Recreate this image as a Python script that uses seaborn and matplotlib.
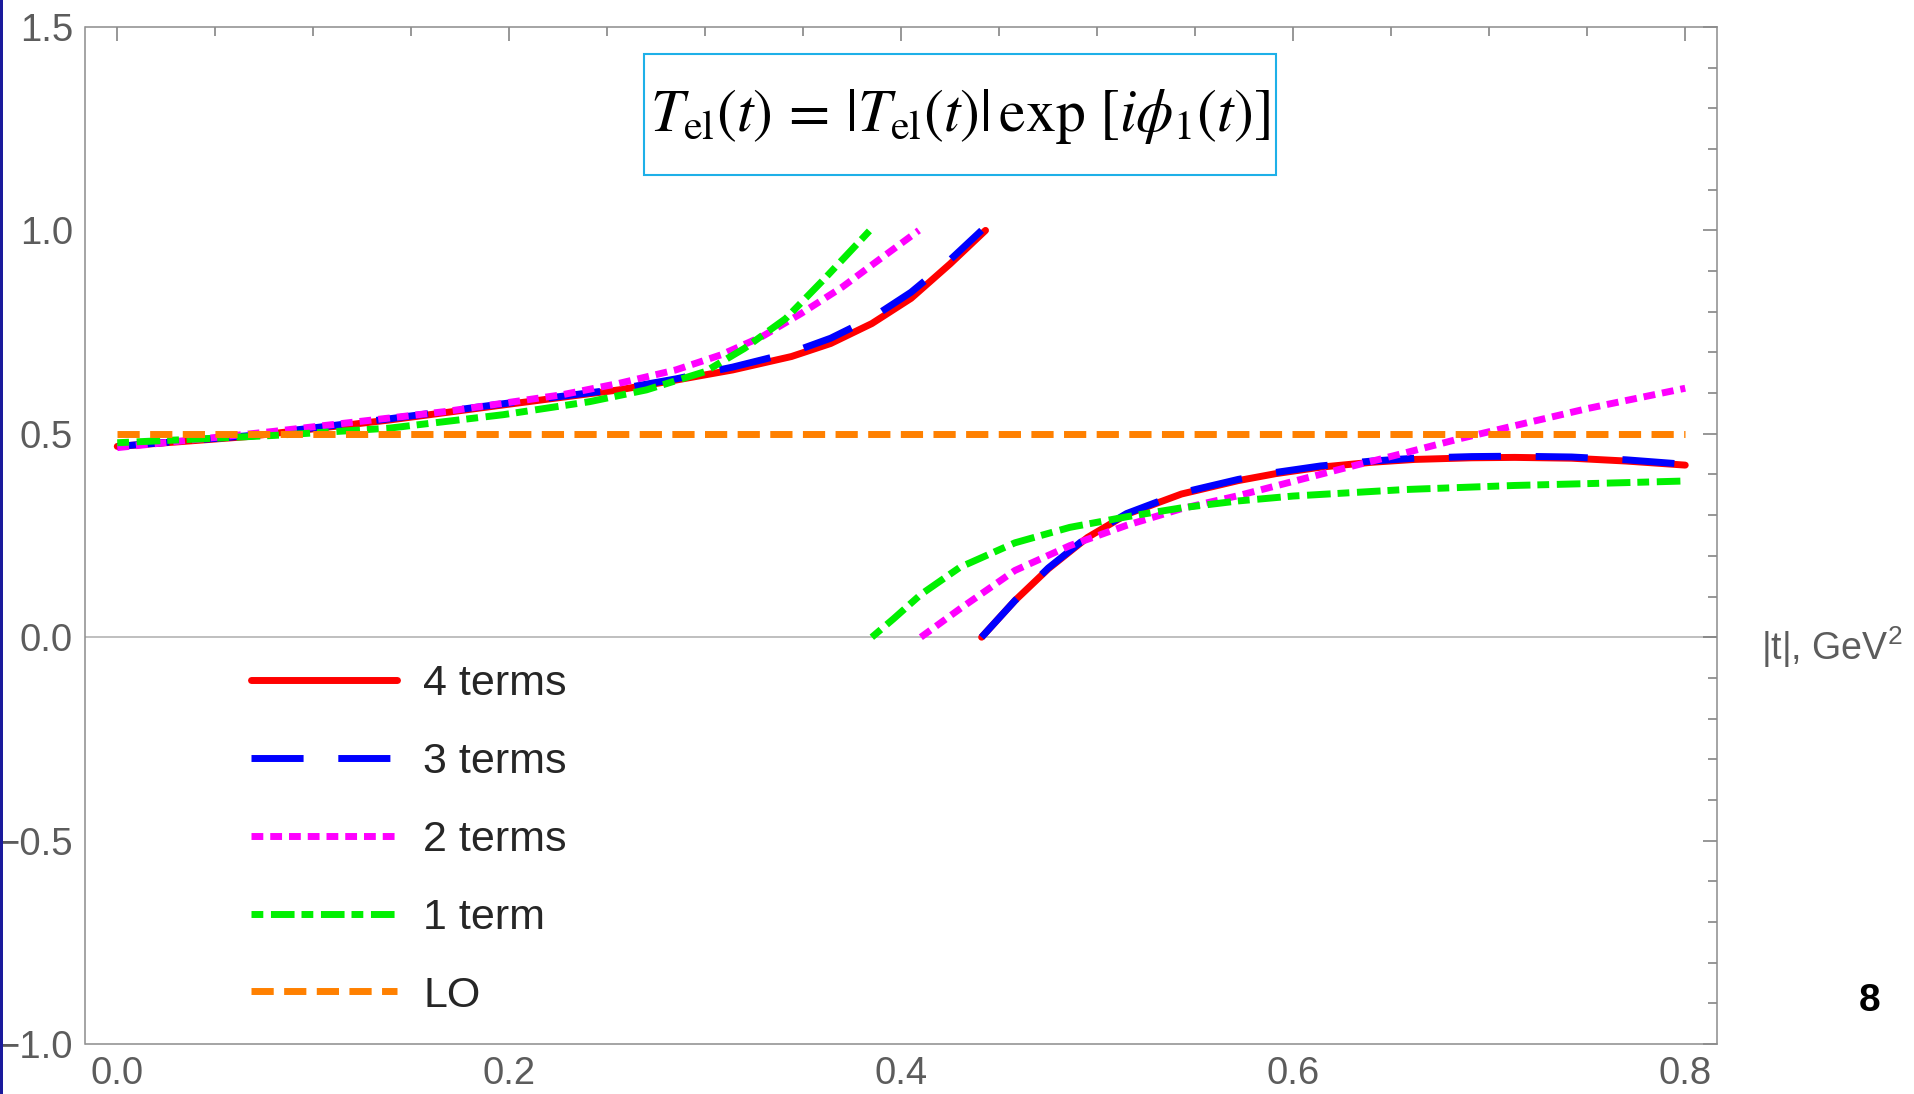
import numpy as np
import pandas as pd
import matplotlib
matplotlib.use("Agg")
import matplotlib.pyplot as plt
from matplotlib.patches import Rectangle
from matplotlib.ticker import MultipleLocator
import seaborn as sns

# ---------------- data ----------------
series_names = ["4 terms", "3 terms", "2 terms", "1 term", "LO"]

# 4 terms
t4_a   = [0.0, 0.066, 0.139, 0.197, 0.256, 0.285, 0.314, 0.344, 0.364, 0.385, 0.405, 0.425, 0.443]
phi4_a = [0.469, 0.493, 0.534, 0.571, 0.608, 0.632, 0.657, 0.690, 0.722, 0.771, 0.833, 0.918, 1.0]
t4_b   = [0.441, 0.458, 0.475, 0.495, 0.515, 0.543, 0.572, 0.591, 0.614, 0.640, 0.662, 0.691, 0.713, 0.742, 0.770, 0.800]
phi4_b = [0.0, 0.090, 0.168, 0.245, 0.302, 0.352, 0.385, 0.402, 0.418, 0.430, 0.437, 0.441, 0.442, 0.440, 0.433, 0.423]

# 3 terms
t3_a   = [0.0, 0.066, 0.139, 0.197, 0.256, 0.285, 0.314, 0.344, 0.364, 0.385, 0.405, 0.425, 0.441]
phi3_a = [0.469, 0.495, 0.537, 0.574, 0.610, 0.635, 0.664, 0.700, 0.735, 0.785, 0.848, 0.928, 1.0]
t3_b   = [0.441, 0.458, 0.475, 0.495, 0.515, 0.543, 0.572, 0.591, 0.614, 0.640, 0.662, 0.691, 0.713, 0.742, 0.770, 0.800]
phi3_b = [0.0, 0.090, 0.170, 0.247, 0.304, 0.355, 0.388, 0.405, 0.421, 0.433, 0.440, 0.444, 0.445, 0.443, 0.436, 0.425]

# 2 terms
t2_a   = [0.0, 0.080, 0.168, 0.227, 0.256, 0.285, 0.308, 0.329, 0.349, 0.370, 0.387, 0.409]
phi2_a = [0.466, 0.506, 0.555, 0.596, 0.624, 0.657, 0.694, 0.739, 0.796, 0.861, 0.922, 1.0]
t2_b   = [0.410, 0.430, 0.458, 0.486, 0.515, 0.543, 0.572, 0.600, 0.628, 0.657, 0.685, 0.713, 0.750, 0.800]
phi2_b = [0.0, 0.070, 0.164, 0.225, 0.275, 0.316, 0.348, 0.383, 0.418, 0.453, 0.488, 0.520, 0.562, 0.612]

# 1 term
t1_a   = [0.0, 0.080, 0.139, 0.197, 0.241, 0.270, 0.300, 0.320, 0.341, 0.361, 0.384]
phi1_a = [0.478, 0.496, 0.514, 0.547, 0.579, 0.608, 0.653, 0.710, 0.783, 0.882, 1.0]
t1_b   = [0.385, 0.396, 0.410, 0.430, 0.458, 0.486, 0.515, 0.543, 0.572, 0.600, 0.657, 0.713, 0.770, 0.800]
phi1_b = [0.0, 0.045, 0.105, 0.172, 0.232, 0.270, 0.296, 0.318, 0.335, 0.347, 0.363, 0.373, 0.380, 0.384]

# LO
t_lo   = [0.0, 0.8]
phi_lo = [0.5, 0.5]

x_ticks = [0.0, 0.2, 0.4, 0.6, 0.8]
y_ticks = [-1.0, -0.5, 0.0, 0.5, 1.0, 1.5]

# ---------------- long table ----------------
parts = [
    ("4 terms", "a", t4_a, phi4_a), ("4 terms", "b", t4_b, phi4_b),
    ("3 terms", "a", t3_a, phi3_a), ("3 terms", "b", t3_b, phi3_b),
    ("2 terms", "a", t2_a, phi2_a), ("2 terms", "b", t2_b, phi2_b),
    ("1 term", "a", t1_a, phi1_a), ("1 term", "b", t1_b, phi1_b),
    ("LO", "a", t_lo, phi_lo),
]
frames = []
for name, br, tx, py in parts:
    frames.append(pd.DataFrame({"t": tx, "phi": py, "series": name, "branch": br}))
df = pd.concat(frames, ignore_index=True)

palette = {"4 terms": "#FF0000", "3 terms": "#0000FF", "2 terms": "#FF00FF",
           "1 term": "#00F000", "LO": "#FF8000"}
dashes = {"4 terms": "", "3 terms": (7.5, 5.0), "2 terms": (1.7, 1.0),
          "1 term": (1.7, 1.1, 3.4, 1.0), "LO": (3.2, 1.5)}

# ---------------- figure ----------------
sns.set_style("white")
plt.rcParams["font.family"] = ["Liberation Sans", "DejaVu Sans"]
plt.rcParams["mathtext.fontset"] = "custom"
plt.rcParams["mathtext.rm"] = "Liberation Sans"
plt.rcParams["mathtext.it"] = "Liberation Sans:italic"
plt.rcParams["mathtext.bf"] = "Liberation Sans:bold"

W, H = 1915, 1094
fig = plt.figure(figsize=(W / 100, H / 100), dpi=100)
ax = fig.add_axes([85.5 / W, 1 - 1044 / H, (1717 - 85.5) / W, (1044 - 27) / H])

sns.lineplot(data=df, x="t", y="phi", hue="series", style="series", units="branch",
             estimator=None, sort=False, hue_order=series_names, style_order=series_names,
             palette=palette, dashes=dashes, lw=5, legend=False, ax=ax)

lines = ax.get_lines()
handles = [lines[0], lines[2], lines[4], lines[6], lines[8]]
for ln in lines:
    ln.set_dash_capstyle("butt")

ax.axhline(0, color="#b4b4b4", lw=1.2, zorder=0.5)

ax.set_xlim(-0.0162, 0.8162)
ax.set_ylim(-1.0, 1.5)
ax.xaxis.set_major_locator(MultipleLocator(0.2))
ax.xaxis.set_minor_locator(MultipleLocator(0.05))
ax.yaxis.set_major_locator(MultipleLocator(0.5))
ax.yaxis.set_minor_locator(MultipleLocator(0.1))
ax.set_xticks(x_ticks)
ax.set_yticks(y_ticks)
ax.set_xlabel("")
ax.set_ylabel("")

ax.tick_params(which="both", direction="in", top=True, right=True, color="#7a7a7a", width=1.1)
ax.tick_params(which="major", length=10, labelsize=27.5, labelcolor="#5c5c5c", pad=9)
ax.tick_params(which="minor", length=6.5)
for sp in ax.spines.values():
    sp.set_color("#8c8c8c")
    sp.set_linewidth(1.1)

# axis label at right of zero line
ax.text(1.027, -0.025, r"|t|, GeV$^2$", transform=ax.get_yaxis_transform(),
        ha="left", va="center", fontsize=27, color="#5c5c5c", clip_on=False)

# legend
leg = ax.legend(handles, series_names, loc="upper left", bbox_to_anchor=(251 / W, 1 - 664 / H),
                bbox_transform=fig.transFigure, frameon=False, fontsize=31,
                handlelength=3.4, handletextpad=0.6, labelspacing=0.88,
                borderpad=0, borderaxespad=0)

# formula box
fig.add_artist(Rectangle((644 / W, 1 - 175 / H), 632 / W, 121 / H, transform=fig.transFigure,
                         fc="white", ec="#1EB0E8", lw=1.5, zorder=2))
fig.text(960 / W, 1 - 117 / H, r"$T_{\rm el}(t)\,=\,|T_{\rm el}(t)|\,\exp\,[i\phi_1(t)]$",
         math_fontfamily="stix", fontsize=43, ha="center", va="center", color="black", zorder=3)

# slide decorations
fig.add_artist(Rectangle((0, 0), 3 / W, 1, transform=fig.transFigure, fc="#1a1a9c", ec="none"))
fig.text(1870 / W, 1 - 1001 / H, "8", fontsize=28, fontweight="bold", ha="center", va="center",
         color="black")

fig.savefig("out.png", dpi=100)
